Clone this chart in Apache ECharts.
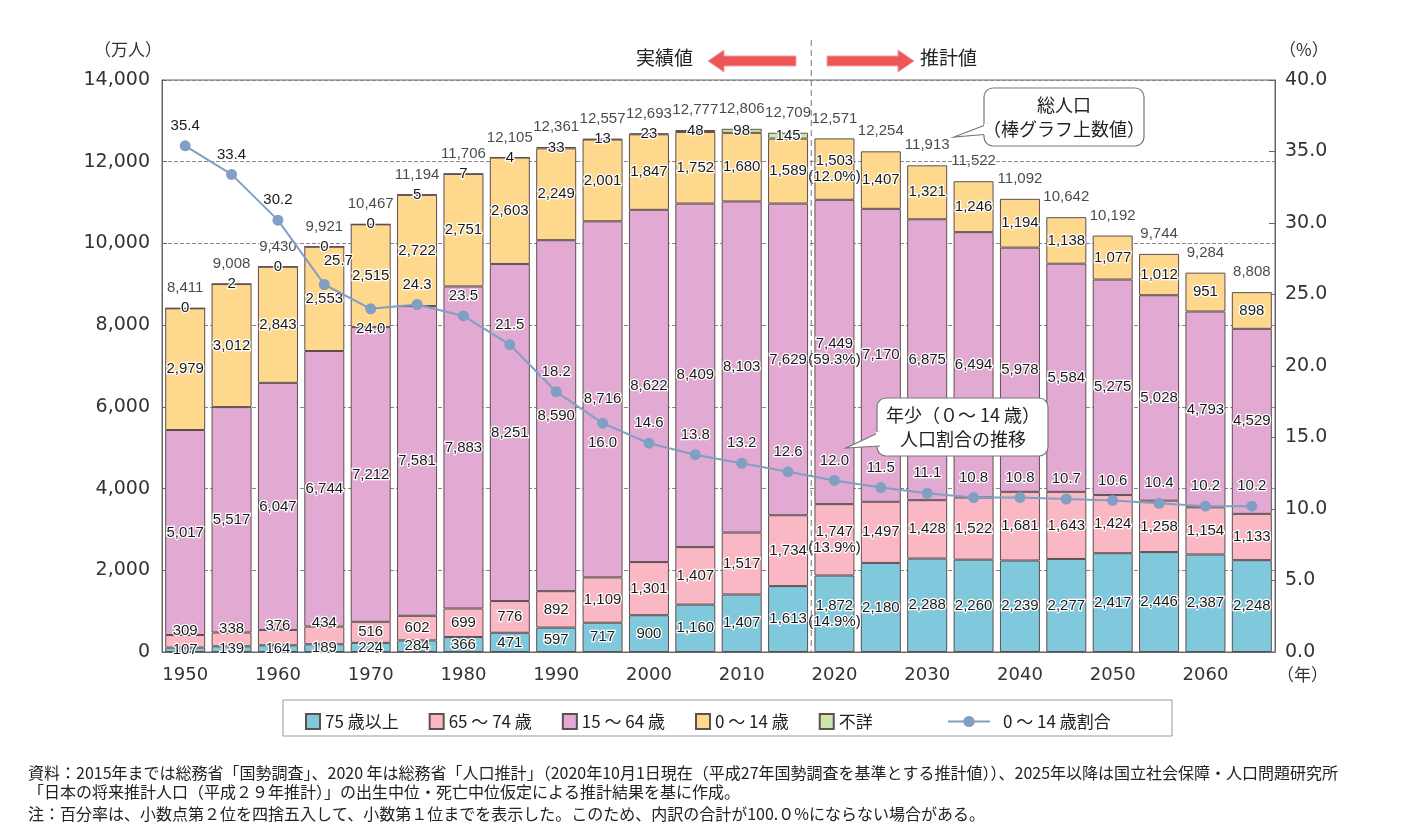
<!DOCTYPE html>
<html lang="ja">
<head>
<meta charset="UTF-8">
<title>年齢区分別人口の推移</title>
<script src="https://cdn.jsdelivr.net/npm/echarts@6/dist/echarts.min.js"></script>
<style>
  html, body { margin: 0; padding: 0; background: #fff; }
  #chart { width: 1410px; height: 838px; }
</style>
</head>
<body>
<div id="chart"></div>
<script>
// 年次（5年ごと）
var years = ['1950','1955','1960','1965','1970','1975','1980','1985','1990','1995','2000','2005',
             '2010','2015','2020','2025','2030','2035','2040','2045','2050','2055','2060','2065'];
// 万人
var age75 = [107,139,164,189,224,284,366,471,597,717,900,1160,1407,1613,1872,2180,2288,2260,2239,2277,2417,2446,2387,2248];
var age65 = [309,338,376,434,516,602,699,776,892,1109,1301,1407,1517,1734,1747,1497,1428,1522,1681,1643,1424,1258,1154,1133];
var age15 = [5017,5517,6047,6744,7212,7581,7883,8251,8590,8716,8622,8409,8103,7629,7449,7170,6875,6494,5978,5584,5275,5028,4793,4529];
var age0  = [2979,3012,2843,2553,2515,2722,2751,2603,2249,2001,1847,1752,1680,1589,1503,1407,1321,1246,1194,1138,1077,1012,951,898];
var unknown = [0,2,0,0,0,5,7,4,33,13,23,48,98,145,null,null,null,null,null,null,null,null,null,null];
var totals = [8411,9008,9430,9921,10467,11194,11706,12105,12361,12557,12693,12777,12806,12709,
              12571,12254,11913,11522,11092,10642,10192,9744,9284,8808];
// 0～14歳割合（%）
var ratio0 = [35.4,33.4,30.2,25.7,24.0,24.3,23.5,21.5,18.2,16.0,14.6,13.8,13.2,12.6,12.0,11.5,11.1,10.8,10.8,10.7,10.6,10.4,10.2,10.2];
// 2020年の構成比（75+, 65-74, 15-64, 0-14）
var share2020 = [14.9, 13.9, 59.3, 12.0];
var belowLabels = ['1970', '1995'];

var numFont = "'Liberation Sans', Arial, sans-serif";
var axisFont = "'DejaVu Sans', sans-serif";
var jpFont = "'Noto Sans CJK JP', sans-serif";

function fmt(v) {
  return v.toString().replace(/\B(?=(\d{3})+(?!\d))/g, ',');
}

var chart = echarts.init(document.getElementById('chart'));

function barSeries(name, data, color, shareIdx) {
  return {
    name: name,
    type: 'bar',
    stack: 'pop',
    barWidth: 40,
    data: data,
    itemStyle: { color: color, borderColor: '#5e4e50', borderWidth: 1 },
    label: {
      show: true,
      position: 'inside',
      fontFamily: numFont,
      fontSize: 15,
      lineHeight: 16,
      color: '#1a1a1a',
      textBorderColor: '#fff',
      textBorderWidth: 2.5,
      formatter: function (p) {
        if (p.value == null) return '';
        var s = fmt(p.value);
        if (shareIdx != null && p.name === '2020') s += '\n(' + share2020[shareIdx].toFixed(1) + '%)';
        return s;
      }
    },
    emphasis: { disabled: true }
  };
}

var s65 = barSeries('65 ～ 74 歳', age65, '#f9b8c3', 1);
s65.labelLayout = function (params) {
  if (params.rect.height < 20) {
    return { y: params.rect.y - 4, verticalAlign: 'middle', align: 'center', x: params.rect.x + params.rect.width / 2 };
  }
  return {};
};

var sUnknown = barSeries('不詳', unknown, '#cde4ab', null);

var option = {
  animation: false,
  backgroundColor: '#fff',
  grid: { left: 162, right: 135, top: 80, bottom: 186, show: true, borderColor: '#666', borderWidth: 1 },
  legend: [
    {
      data: ['75 歳以上', '65 ～ 74 歳', '15 ～ 64 歳', '0 ～ 14 歳', '不詳'],
      left: 300, top: 708,
      itemWidth: 14, itemHeight: 15, itemGap: 30,
      icon: 'rect',
      textStyle: { fontFamily: jpFont, fontSize: 17, color: '#222' },
      selectedMode: false
    },
    {
      data: ['0 ～ 14 歳割合'],
      left: 942, top: 708,
      itemWidth: 42, itemHeight: 14,
      textStyle: { fontFamily: jpFont, fontSize: 17, color: '#222', padding: [0, 0, 0, 8] },
      selectedMode: false
    }
  ],
  xAxis: {
    type: 'category',
    data: years,
    axisLine: { lineStyle: { color: '#666' } },
    axisTick: { show: false },
    axisLabel: { interval: 1, fontFamily: axisFont, fontSize: 18, color: '#333', margin: 14 },
    name: '（年）',
    nameLocation: 'end',
    nameGap: 2,
    nameTextStyle: { fontFamily: jpFont, fontSize: 17, color: '#333', verticalAlign: 'top', padding: [14, 0, 0, 0] }
  },
  yAxis: [
    {
      type: 'value', min: 0, max: 14000, interval: 2000,
      axisLine: { show: true, lineStyle: { color: '#666' } },
      axisTick: { show: true, inside: true, length: 5, lineStyle: { color: '#666' } },
      splitLine: { show: true, lineStyle: { color: '#888', type: 'dashed' } },
      axisLabel: { formatter: function (v) { return fmt(v); }, fontFamily: axisFont, fontSize: 19, color: '#333', margin: 12 },
      name: '（万人）',
      nameGap: 22,
      nameTextStyle: { fontFamily: jpFont, fontSize: 17, color: '#333', align: 'right', padding: [0, 0, 0, 0] }
    },
    {
      type: 'value', min: 0, max: 40, interval: 5,
      axisLine: { show: true, lineStyle: { color: '#666' } },
      axisTick: { show: true, inside: true, length: 6, lineStyle: { color: '#666' } },
      splitLine: { show: false },
      axisLabel: { formatter: function (v) { return v.toFixed(1); }, fontFamily: axisFont, fontSize: 19, color: '#333', margin: 10 },
      name: '（%）',
      nameGap: 22,
      nameTextStyle: { fontFamily: jpFont, fontSize: 17, color: '#333', align: 'left', padding: [0, 0, 0, 4] }
    }
  ],
  series: [
    barSeries('75 歳以上', age75, '#80c8dc', 0),
    s65,
    barSeries('15 ～ 64 歳', age15, '#e2aad3', 2),
    barSeries('0 ～ 14 歳', age0, '#fed98d', 3),
    sUnknown,
    {
      name: '総人口',
      type: 'scatter',
      data: totals,
      symbolSize: 1,
      itemStyle: { color: 'rgba(0,0,0,0)' },
      silent: true,
      z: 5,
      label: {
        show: true, position: 'top', distance: 12,
        fontFamily: numFont, fontSize: 15, color: '#1a1a1a',
        textBorderColor: '#fff', textBorderWidth: 2,
        formatter: function (p) { return fmt(p.value); }
      }
    },
    {
      name: '0 ～ 14 歳割合',
      type: 'line',
      yAxisIndex: 1,
      z: 10,
      data: ratio0.map(function (v, i) {
        var item = { value: v };
        if (belowLabels.indexOf(years[i]) >= 0) item.label = { position: 'bottom' };
        if (years[i] === '1965') item.label = { position: 'top', offset: [14, -4] };
        return item;
      }),
      symbol: 'circle',
      symbolSize: 11,
      lineStyle: { color: '#809fc3', width: 2 },
      itemStyle: { color: '#809fc3' },
      label: {
        show: true, position: 'top', distance: 7,
        fontFamily: numFont, fontSize: 15, color: '#1a1a1a',
        textBorderColor: '#fff', textBorderWidth: 2.5,
        formatter: function (p) { return p.value.toFixed(1); }
      },
      emphasis: { disabled: true }
    }
  ]
};

chart.setOption(option);

// 注記（区切り線・矢印・吹き出し・出典）
var x15 = chart.convertToPixel({ xAxisIndex: 0 }, '2015');
var x20 = chart.convertToPixel({ xAxisIndex: 0 }, '2020');
var xDiv = (x15 + x20) / 2;
var yBottom = chart.convertToPixel({ yAxisIndex: 0 }, 0);

var arrowStyle = { fill: '#ec5656', stroke: '#f3a0a0', lineWidth: 1 };
var noteStyle = { fontFamily: jpFont, fontSize: 16, fill: '#222' };

chart.setOption({
  graphic: [
    { type: 'line', z: 20, shape: { x1: xDiv, y1: 40, x2: xDiv, y2: yBottom }, style: { stroke: '#777', lineWidth: 1, lineDash: [6, 4] } },
    { type: 'text', z: 20, left: 636, top: 48, style: { text: '実績値', fontFamily: jpFont, fontSize: 19, fill: '#222' } },
    { type: 'polygon', z: 20, shape: { points: [[796, 56], [724, 56], [724, 50], [708, 61], [724, 72], [724, 66], [796, 66]] }, style: arrowStyle },
    { type: 'polygon', z: 20, shape: { points: [[827, 56], [898, 56], [898, 50], [914, 61], [898, 72], [898, 66], [827, 66]] }, style: arrowStyle },
    { type: 'text', z: 20, left: 920, top: 48, style: { text: '推計値', fontFamily: jpFont, fontSize: 19, fill: '#222' } },

    { type: 'polyline', z: 21, shape: { points: [[988, 124], [954, 137], [990, 134]] }, style: { stroke: '#777', fill: '#fff', lineWidth: 1.2 } },
    { type: 'rect', z: 20, shape: { x: 984, y: 88, width: 160, height: 58, r: 9 }, style: { stroke: '#777', fill: '#fff', lineWidth: 1.2 } },
    { type: 'rect', z: 22, shape: { x: 984, y: 124, width: 8, height: 11 }, style: { fill: '#fff' } },
    { type: 'text', z: 23, x: 1064, y: 117, style: { text: '総人口\n（棒グラフ上数値）', fontFamily: jpFont, fontSize: 18, lineHeight: 24, fill: '#222', align: 'center', verticalAlign: 'middle' } },

    { type: 'polyline', z: 21, shape: { points: [[880, 432], [846, 448], [880, 446]] }, style: { stroke: '#777', fill: '#fff', lineWidth: 1.2 } },
    { type: 'rect', z: 20, shape: { x: 877, y: 398, width: 171, height: 58, r: 9 }, style: { stroke: '#777', fill: '#fff', lineWidth: 1.2 } },
    { type: 'rect', z: 22, shape: { x: 876, y: 432, width: 8, height: 13 }, style: { fill: '#fff' } },
    { type: 'text', z: 23, x: 963, y: 427, style: { text: '年少（０～ 14 歳）\n人口割合の推移', fontFamily: jpFont, fontSize: 18, lineHeight: 24, fill: '#222', align: 'center', verticalAlign: 'middle' } },

    { type: 'rect', z: 1, shape: { x: 283, y: 700, width: 889, height: 36 }, style: { stroke: '#999', fill: 'none', lineWidth: 1 } },

    { type: 'text', left: 28, top: 765, style: Object.assign({ text: '資料：2015年までは総務省「国勢調査」、2020 年は総務省「人口推計」（2020年10月1日現在（平成27年国勢調査を基準とする推計値））、2025年以降は国立社会保障・人口問題研究所' }, noteStyle) },
    { type: 'text', left: 28, top: 784, style: Object.assign({ text: '「日本の将来推計人口（平成２９年推計）」の出生中位・死亡中位仮定による推計結果を基に作成。' }, noteStyle) },
    { type: 'text', left: 28, top: 806, style: Object.assign({ text: '注：百分率は、小数点第２位を四捨五入して、小数第１位までを表示した。このため、内訳の合計が100.０%にならない場合がある。' }, noteStyle) }
  ]
});
</script>
</body>
</html>
